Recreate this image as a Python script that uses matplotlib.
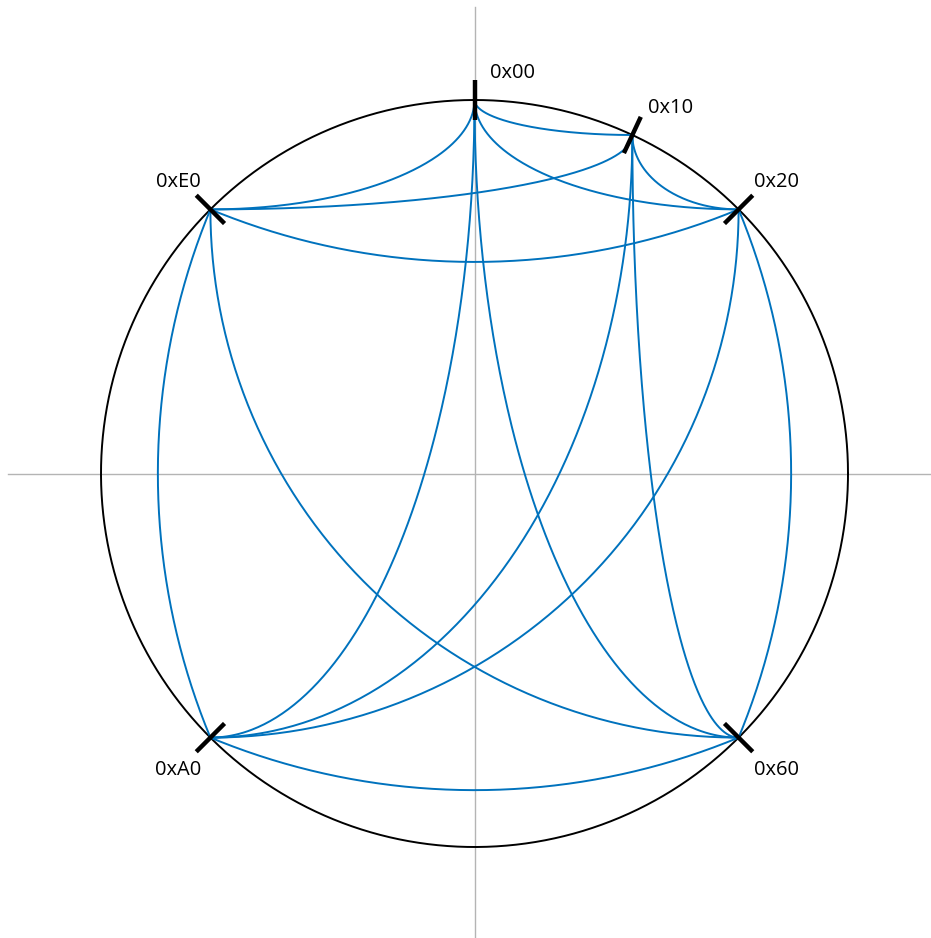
"""
Ring of six nodes on the 0x00-0xFF identifier circle, every pair joined.

Edges between nodes at different heights are drawn as quarter ellipses whose
centre sits at (x of the lower node, y of the upper node): the curve leaves the
upper node straight down and lands on the lower node horizontally.  Pairs that
share a row or a column get a shallow circular arc instead.

Output: out.png
"""
import numpy as np
import matplotlib.pyplot as plt

BLUE = "#0072bd"
AXIS_GRAY = "#b4b4b4"

WIDTH_PX, HEIGHT_PX, DPI = 931, 938, 100
CX_PX, CY_PX, R_PX = 474.5, 473.5, 373.5

NODE_LABELS = ["0x00", "0x10", "0x20", "0x60", "0xA0", "0xE0"]
NODE_ANGLES = [0.0, 25.0, 45.0, 135.0, 225.0, 315.0]   # degrees, clockwise from top

EDGES = [
    ("0x00", "0x10"), ("0x00", "0x20"), ("0x00", "0x60"), ("0x00", "0xA0"), ("0x00", "0xE0"),
    ("0x10", "0x20"), ("0x10", "0x60"), ("0x10", "0xA0"), ("0x10", "0xE0"),
    ("0x20", "0x60"), ("0x20", "0xA0"), ("0x20", "0xE0"),
    ("0x60", "0xA0"), ("0x60", "0xE0"),
    ("0xA0", "0xE0"),
]

ARC_BEND = np.deg2rad(22.5)     # tangent/chord angle for row- or column-aligned pairs
TICK_HALF = 20 / R_PX
AXIS_REACH = 1.25


def node_xy(angle_deg):
    a = np.deg2rad(angle_deg)
    return np.array([np.sin(a), np.cos(a)])


def quarter_ellipse(p, q, n=200):
    up, low = (p, q) if p[1] > q[1] else (q, p)
    t = np.linspace(0, np.pi / 2, n)
    x = low[0] + (up[0] - low[0]) * np.cos(t)
    y = up[1] + (low[1] - up[1]) * np.sin(t)
    return x, y


def shallow_arc(p, q, normal, n=200):
    mid = 0.5 * (p + q)
    chord = q - p
    h = 0.5 * np.linalg.norm(chord)
    u = chord / (2 * h)
    r = h / np.sin(ARC_BEND)
    centre = mid - normal * r * np.cos(ARC_BEND)
    s = np.linspace(-ARC_BEND, ARC_BEND, n)
    pts = centre[None, :] + r * (np.outer(np.cos(s), normal) + np.outer(np.sin(s), u))
    return pts[:, 0], pts[:, 1]


def edge_path(p, q):
    if np.isclose(p[1], q[1], atol=1e-6):
        return shallow_arc(p, q, np.array([0.0, -1.0]))
    if np.isclose(p[0], q[0], atol=1e-6):
        return shallow_arc(p, q, np.array([np.sign(p[0]), 0.0]))
    return quarter_ellipse(p, q)


def main():
    fig = plt.figure(figsize=(WIDTH_PX / DPI, HEIGHT_PX / DPI), dpi=DPI)
    ax = fig.add_axes([0, 0, 1, 1])
    ax.set_xlim(-CX_PX / R_PX, (WIDTH_PX - CX_PX) / R_PX)
    ax.set_ylim(-(HEIGHT_PX - CY_PX) / R_PX, CY_PX / R_PX)
    ax.axis("off")

    ax.plot([-AXIS_REACH, AXIS_REACH], [0, 0], color=AXIS_GRAY, lw=1.0, zorder=1)
    ax.plot([0, 0], [-AXIS_REACH, AXIS_REACH], color=AXIS_GRAY, lw=1.0, zorder=1)

    th = np.linspace(0, 2 * np.pi, 720)
    ax.plot(np.cos(th), np.sin(th), color="black", lw=1.4, zorder=2)

    pos = {lab: node_xy(a) for lab, a in zip(NODE_LABELS, NODE_ANGLES)}

    for a, b in EDGES:
        x, y = edge_path(pos[a], pos[b])
        ax.plot(x, y, color=BLUE, lw=1.4, zorder=3)

    for lab, ang in zip(NODE_LABELS, NODE_ANGLES):
        p = pos[lab]
        d = p / np.linalg.norm(p)
        ends = np.array([p - d * TICK_HALF, p + d * TICK_HALF])
        ax.plot(ends[:, 0], ends[:, 1], color="black", lw=3.2,
                solid_capstyle="butt", zorder=4)

        dx = (38 if p[0] >= -1e-9 else -32) / R_PX
        dy = (27 if p[1] > 0 else -32) / R_PX
        ax.text(p[0] + dx, p[1] + dy, lab, ha="center", va="center",
                fontsize=14.5, family="Open Sans", zorder=5)

    fig.savefig("out.png", dpi=DPI)
    plt.close(fig)


if __name__ == "__main__":
    main()
